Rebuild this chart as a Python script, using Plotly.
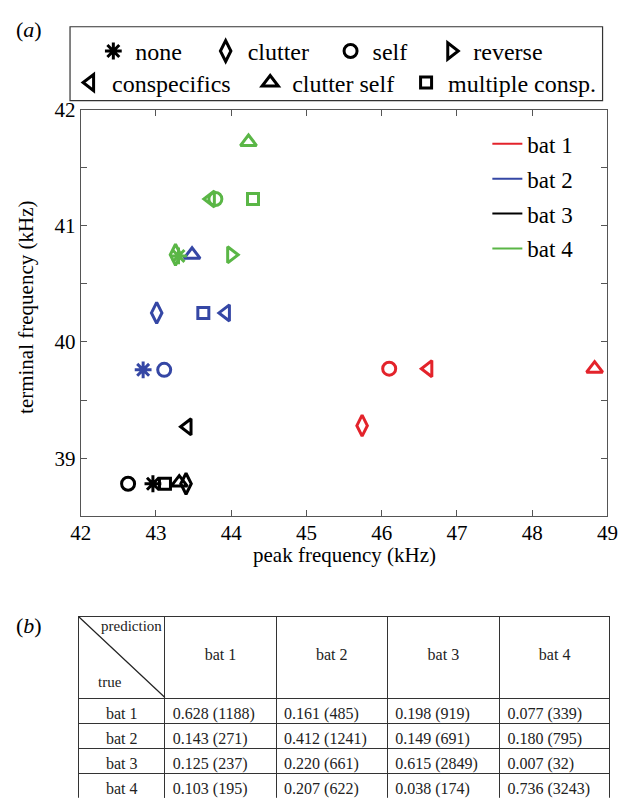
import plotly.graph_objects as go

# ---------------- data ----------------
conditions = ["none", "clutter", "self", "reverse", "conspecifics", "clutter self", "multiple consp."]
cond_symbols = ["asterisk-open", "diamond-tall-open", "circle-open", "triangle-right-open",
                "triangle-left-open", "triangle-up-open", "square-open"]
cond_sizes = [14, 15, 13, 14, 14, 14, 11]

bats = ["bat 1", "bat 2", "bat 3", "bat 4"]
bat_colors = ["#e3232b", "#3547a5", "#000000", "#5ab646"]

# peak / terminal frequency (kHz) per condition (order = conditions); None = not shown
bat1_peak = [None, 45.74, 46.10, None, 46.62, 48.83, None]
bat1_term = [None, 39.28, 39.77, None, 39.77, 39.77, None]
bat2_peak = [42.83, 43.01, 43.11, None, 43.93, 43.48, 43.63]
bat2_term = [39.76, 40.25, 39.76, None, 40.25, 40.75, 40.25]
bat3_peak = [42.96, 43.40, 42.63, None, 43.42, 43.31, 43.12]
bat3_term = [38.78, 38.78, 38.78, None, 39.27, 38.79, 38.78]
bat4_peak = [43.30, 43.26, 43.79, 44.00, 43.73, 44.23, 44.29]
bat4_term = [40.74, 40.75, 41.23, 40.75, 41.23, 41.72, 41.23]

peaks = [bat1_peak, bat2_peak, bat3_peak, bat4_peak]
terms = [bat1_term, bat2_term, bat3_term, bat4_term]

x_ticks = [42, 43, 44, 45, 46, 47, 48, 49]
y_ticks = [39, 40, 41, 42]

# confusion table (rows = true bat, columns = predicted bat)
table_cols = ["bat 1", "bat 2", "bat 3", "bat 4"]
true_rows = ["bat 1", "bat 2", "bat 3", "bat 4"]
rate_true1 = [0.628, 0.161, 0.198, 0.077]
count_true1 = [1188, 485, 919, 339]
rate_true2 = [0.143, 0.412, 0.149, 0.180]
count_true2 = [271, 1241, 691, 795]
rate_true3 = [0.125, 0.220, 0.615, 0.007]
count_true3 = [237, 661, 2849, 32]
rate_true4 = [0.103, 0.207, 0.038, 0.736]
count_true4 = [195, 622, 174, 3243]

rates = [rate_true1, rate_true2, rate_true3, rate_true4]
counts = [count_true1, count_true2, count_true3, count_true4]

# ---------------- figure ----------------
W, H = 630, 799
SERIF = "Liberation Serif"


def px_x(p):
    return p / W


def px_y(p):
    return 1 - p / H


fig = go.Figure()

for b, col, xs, ys in zip(bats, bat_colors, peaks, terms):
    fig.add_trace(go.Scatter(
        x=xs, y=ys, mode="markers", name=b, showlegend=False,
        marker=dict(symbol=cond_symbols, size=cond_sizes, color=col, opacity=1,
                    line=dict(width=3, color=col)),
        hoverinfo="x+y",
    ))

# condition key: one legend per entry so each sits where the reference puts it
legend_ids = ["legend", "legend2", "legend3", "legend4", "legend5", "legend6", "legend7"]
legend_pos = [(106, 40), (222, 40), (351, 40), (455, 40), (82, 72), (268, 72), (429, 72)]
for c, s, sz, lid in zip(conditions, cond_symbols, cond_sizes, legend_ids):
    fig.add_trace(go.Scatter(
        x=[None], y=[None], mode="markers", name=c, legend=lid,
        marker=dict(symbol=s, size=sz, color="black", line=dict(width=3, color="black")),
    ))

# bat legend
for b, col in zip(bats, bat_colors):
    fig.add_trace(go.Scatter(
        x=[None], y=[None], mode="lines", name=b, legend="legend8", legendgroup=b,
        line=dict(color=col, width=2),
    ))

# table
cell_cols = [true_rows]
for j in range(4):
    cell_cols.append([f"{rates[i][j]:.3f} ({counts[i][j]})" for i in range(4)])

fig.add_trace(go.Table(
    domain=dict(x=[px_x(71), px_x(620)], y=[px_y(798), px_y(614)]),
    columnwidth=[89, 115, 115, 116, 114],
    header=dict(values=[""] + ["\u00a0<br>" + c for c in table_cols], height=82,
                align="center", fill=dict(color="white"),
                line=dict(color="#333333", width=1),
                font=dict(family=SERIF, size=16, color="#222222")),
    cells=dict(values=cell_cols, height=25,
               align=["center", "left", "left", "left", "left"],
               fill=dict(color="white"),
               line=dict(color="#333333", width=1),
               font=dict(family=SERIF, size=16, color="#222222")),
))

axis_common = dict(
    showline=True, linecolor="#555555", linewidth=1.2, mirror="ticks",
    ticks="inside", ticklen=6, tickwidth=1.2, tickcolor="#555555",
    showgrid=False, zeroline=False,
    tickfont=dict(family=SERIF, size=21, color="black"),
)

legend_common = dict(orientation="h", xanchor="left", yanchor="middle", itemwidth=34,
                     font=dict(family=SERIF, size=24), bgcolor="rgba(0,0,0,0)",
                     itemclick=False, itemdoubleclick=False)
legend_layout = {}
for lid, (cx, cy) in zip(legend_ids, legend_pos):
    legend_layout[lid] = dict(x=px_x(cx - 22), y=px_y(cy), **legend_common)

fig.update_layout(
    width=W, height=H, margin=dict(l=0, r=0, t=0, b=0),
    paper_bgcolor="white", plot_bgcolor="white",
    font=dict(family=SERIF, color="black"),
    xaxis=dict(domain=[px_x(73), px_x(617)], range=[42, 49], tickvals=x_ticks,
               ticklabelstandoff=-3, **axis_common),
    yaxis=dict(domain=[px_y(512), px_y(99)], range=[38.5, 42], tickvals=y_ticks,
               minor=dict(dtick=0.5, ticks="inside", ticklen=6, tickwidth=1.2, tickcolor="#555555"),
               **axis_common),
    legend8=dict(orientation="v", x=px_x(493), y=px_y(112), xanchor="left", yanchor="top",
                 font=dict(family=SERIF, size=23), tracegroupgap=2, itemwidth=30,
                 bgcolor="rgba(0,0,0,0)"),
    shapes=[
        dict(type="rect", xref="paper", yref="paper", x0=px_x(62), x1=px_x(612),
             y0=px_y(90), y1=px_y(15), line=dict(color="#333333", width=1.2)),
        dict(type="line", xref="paper", yref="paper", x0=px_x(71), y0=px_y(614),
             x1=px_x(160), y1=px_y(696), line=dict(color="#222222", width=1.2)),
    ],
    annotations=[
        dict(text="peak frequency (kHz)", x=px_x(345), y=px_y(551), xref="paper", yref="paper",
             xanchor="center", yanchor="middle", showarrow=False, font=dict(family=SERIF, size=21)),
        dict(text="terminal frequency (kHz)", x=px_x(17), y=px_y(300), xref="paper", yref="paper",
             xanchor="center", yanchor="middle", textangle=-90, showarrow=False,
             font=dict(family=SERIF, size=21)),
        dict(text="(<i>a</i>)", x=px_x(4), y=px_y(18), xref="paper", yref="paper",
             xanchor="left", yanchor="middle", showarrow=False, font=dict(family=SERIF, size=22)),
        dict(text="(<i>b</i>)", x=px_x(4), y=px_y(623), xref="paper", yref="paper",
             xanchor="left", yanchor="middle", showarrow=False, font=dict(family=SERIF, size=22)),
        dict(text="prediction", x=px_x(159), y=px_y(623), xref="paper", yref="paper",
             xanchor="right", yanchor="middle", showarrow=False,
             font=dict(family=SERIF, size=15, color="#222222")),
        dict(text="true", x=px_x(89), y=px_y(680), xref="paper", yref="paper",
             xanchor="left", yanchor="middle", showarrow=False,
             font=dict(family=SERIF, size=15, color="#222222")),
    ],
)
fig.update_layout(**legend_layout)

fig.write_html("out.html", config={"displayModeBar": False},
               post_script="document.body.style.margin='0';document.body.style.overflow='hidden';")
